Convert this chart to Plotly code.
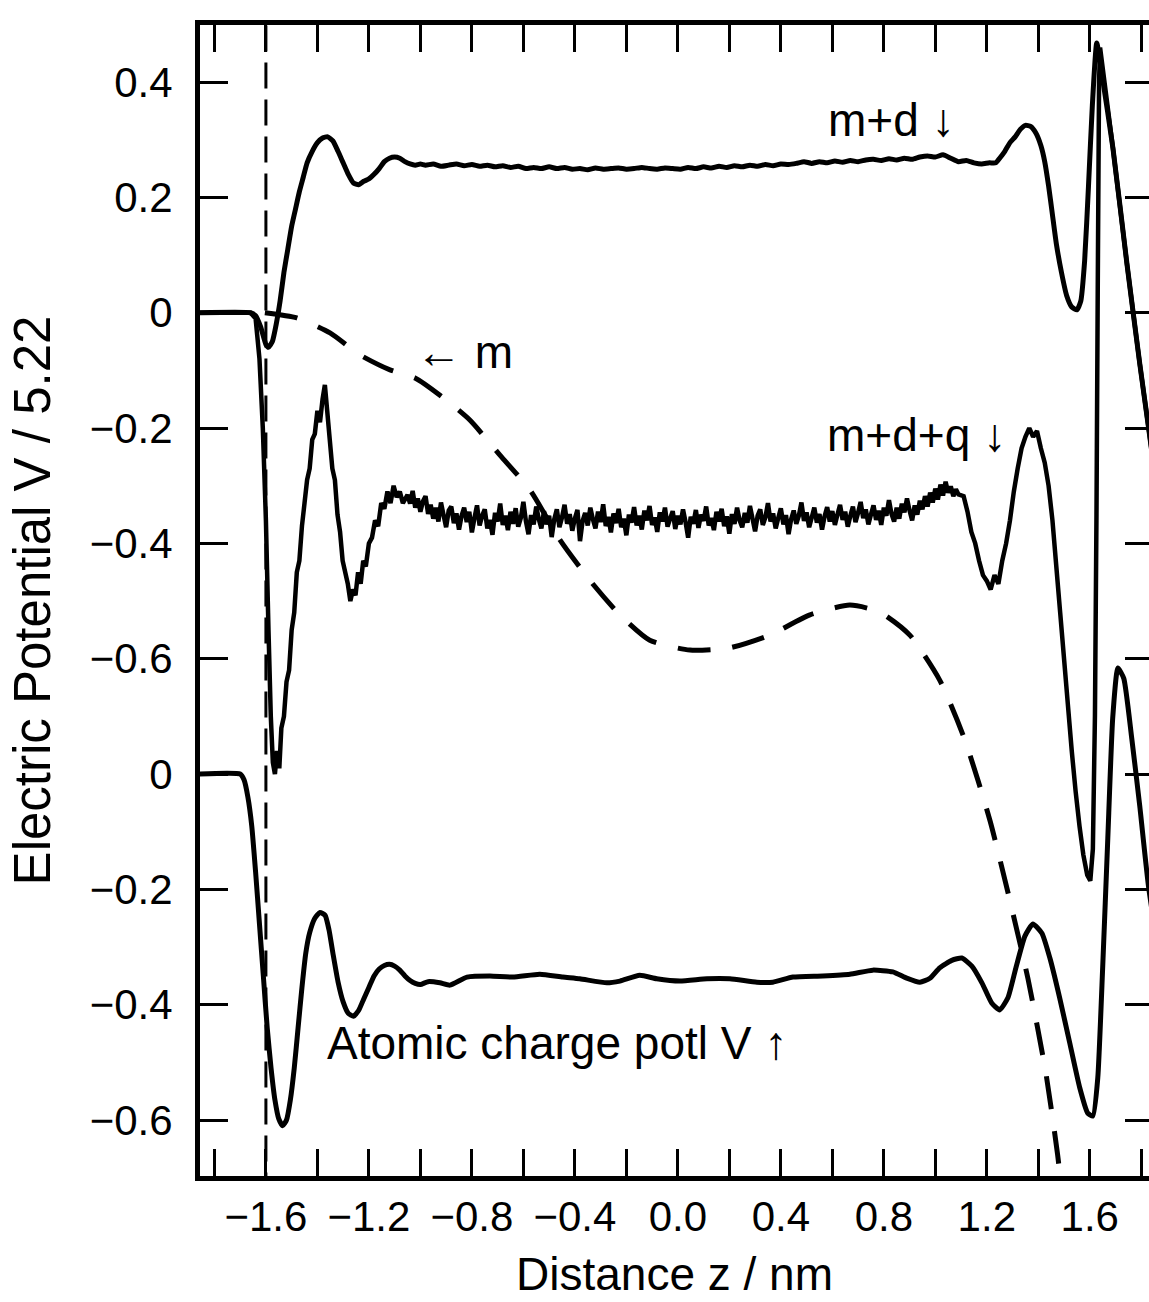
import plotly.graph_objects as go

# ---------------- axis ticks ----------------
x_tick_vals = [-1.8, -1.6, -1.4, -1.2, -1.0, -0.8, -0.6, -0.4, -0.2, 0.0,
               0.2, 0.4, 0.6, 0.8, 1.0, 1.2, 1.4, 1.6, 1.8]
x_tick_text = ["", "−1.6", "", "−1.2", "", "−0.8", "", "−0.4", "", "0.0",
               "", "0.4", "", "0.8", "", "1.2", "", "1.6", ""]
y_tick_vals = [0.4, 0.2, 0.0, -0.2, -0.4, -0.6, -0.8, -1.0, -1.2, -1.4]
y_tick_text = ["0.4", "0.2", "0", "−0.2", "−0.4", "−0.6", "0", "−0.2", "−0.4", "−0.6"]

# ---------------- m+d (solid, upper scale) ----------------
md_z = [-1.86, -1.66, -1.64, -1.62, -1.60, -1.59, -1.575, -1.56, -1.545, -1.53, -1.515, -1.50,
        -1.485, -1.47, -1.455, -1.44, -1.42, -1.40, -1.38, -1.36, -1.34, -1.32, -1.30, -1.28,
        -1.26, -1.24, -1.22, -1.20, -1.18, -1.16, -1.14, -1.12, -1.10, -1.08, -1.06, -1.04,
        -1.02, -1.00, -0.98, -0.95, -0.92, -0.89, -0.86, -0.83, -0.80, -0.77, -0.74, -0.71,
        -0.68, -0.65, -0.62, -0.59, -0.56, -0.53, -0.50, -0.47, -0.44, -0.41, -0.38, -0.35,
        -0.32, -0.29, -0.26, -0.23, -0.20, -0.17, -0.14, -0.11, -0.08, -0.05, -0.02, 0.01,
        0.04, 0.07, 0.10, 0.13, 0.16, 0.19, 0.22, 0.25, 0.28, 0.31, 0.34, 0.37, 0.40, 0.43,
        0.46, 0.49, 0.52, 0.55, 0.58, 0.61, 0.64, 0.67, 0.70, 0.73, 0.76, 0.79, 0.82, 0.85,
        0.88, 0.91, 0.94, 0.97, 1.00, 1.03, 1.06, 1.09, 1.12, 1.15, 1.18, 1.21, 1.235, 1.25,
        1.27, 1.29, 1.31, 1.33, 1.35, 1.37, 1.39, 1.41, 1.425, 1.44, 1.455, 1.47, 1.49, 1.51,
        1.53, 1.55, 1.565, 1.58, 1.595, 1.61, 1.627, 1.645, 1.69, 1.744, 1.794, 1.83, 1.90]
md_v = [0.0, 0.0, -0.005, -0.025, -0.055, -0.06, -0.05, -0.02, 0.02, 0.07, 0.11, 0.15,
        0.18, 0.21, 0.235, 0.26, 0.28, 0.295, 0.303, 0.305, 0.298, 0.28, 0.26, 0.24,
        0.225, 0.222, 0.228, 0.232, 0.24, 0.25, 0.262, 0.268, 0.27, 0.268, 0.262, 0.258,
        0.256, 0.258, 0.256, 0.258, 0.254, 0.256, 0.258, 0.255, 0.257, 0.254, 0.256, 0.253,
        0.255, 0.252, 0.254, 0.25, 0.252, 0.25, 0.253, 0.25, 0.252, 0.249, 0.25, 0.248,
        0.251, 0.249, 0.25, 0.251, 0.249, 0.25, 0.252, 0.25, 0.249, 0.251, 0.25, 0.249,
        0.252, 0.25, 0.253, 0.251, 0.254, 0.252, 0.255, 0.253, 0.256, 0.254, 0.257, 0.255, 0.258, 0.257,
        0.259, 0.262, 0.259, 0.262, 0.26, 0.263, 0.261, 0.264, 0.262, 0.265, 0.266, 0.264, 0.267, 0.265,
        0.268, 0.266, 0.27, 0.272, 0.27, 0.274, 0.268, 0.262, 0.264, 0.26, 0.258, 0.26, 0.26, 0.268,
        0.28, 0.295, 0.305, 0.318, 0.325, 0.323, 0.312, 0.29, 0.262, 0.22, 0.17, 0.12, 0.07, 0.03,
        0.01, 0.005, 0.02, 0.09, 0.22, 0.36, 0.468, 0.42, 0.285, 0.086, -0.088, -0.205, -0.435]

# ---------------- m+d+q (noisy solid, upper scale) ----------------
mdq_left_z = [-1.86, -1.66, -1.64, -1.625, -1.612, -1.600, -1.590, -1.581, -1.573, -1.565,
              -1.557, -1.548, -1.540, -1.530, -1.520, -1.510, -1.500, -1.490, -1.480, -1.470,
              -1.460, -1.450, -1.440, -1.430, -1.420, -1.410, -1.400, -1.390, -1.380, -1.371,
              -1.362, -1.352, -1.342, -1.332, -1.322, -1.312, -1.302, -1.292, -1.282, -1.272,
              -1.262, -1.252, -1.242, -1.232, -1.222, -1.212, -1.200, -1.188, -1.176, -1.164,
              -1.152, -1.140, -1.128, -1.116, -1.104, -1.092, -1.080, -1.068]
mdq_left_v = [0.0, 0.0, -0.01, -0.08, -0.20, -0.36, -0.55, -0.70, -0.78, -0.80,
              -0.76, -0.79, -0.72, -0.70, -0.64, -0.62, -0.55, -0.52, -0.45, -0.43,
              -0.37, -0.33, -0.29, -0.27, -0.22, -0.21, -0.17, -0.19, -0.15, -0.125,
              -0.17, -0.22, -0.27, -0.29, -0.35, -0.38, -0.43, -0.45, -0.47, -0.50,
              -0.48, -0.49, -0.45, -0.47, -0.43, -0.44, -0.40, -0.39, -0.36, -0.37,
              -0.33, -0.34, -0.31, -0.33, -0.30, -0.32, -0.31, -0.33]
# noisy plateau, sampled every 0.01 nm from -1.05 to 1.09
mdq_mid_z = [round(-1.05 + 0.01 * i, 3) for i in range(215)]
mdq_mid_v = [-0.316, -0.331, -0.309, -0.338, -0.322, -0.345, -0.327, -0.318, -0.349, -0.333,
             -0.357, -0.338, -0.362, -0.329, -0.351, -0.372, -0.343, -0.336, -0.365, -0.348,
             -0.376, -0.352, -0.338, -0.363, -0.345, -0.381, -0.356, -0.334, -0.369, -0.352,
             -0.341, -0.374, -0.359, -0.385, -0.347, -0.362, -0.331, -0.368, -0.352, -0.377,
             -0.345, -0.366, -0.339, -0.371, -0.356, -0.328, -0.362, -0.384, -0.351, -0.367,
             -0.336, -0.358, -0.374, -0.344, -0.367, -0.352, -0.389, -0.358, -0.341, -0.372,
             -0.355, -0.333, -0.366, -0.349, -0.378, -0.357, -0.342, -0.396, -0.361, -0.347,
             -0.369, -0.338, -0.358, -0.374, -0.345, -0.363, -0.332, -0.370, -0.354, -0.381,
             -0.348, -0.365, -0.340, -0.372, -0.357, -0.386, -0.350, -0.364, -0.337, -0.369,
             -0.352, -0.376, -0.343, -0.360, -0.335, -0.368, -0.355, -0.380, -0.346, -0.362,
             -0.338, -0.371, -0.357, -0.344, -0.375, -0.352, -0.367, -0.341, -0.363, -0.390,
             -0.354, -0.366, -0.342, -0.373, -0.350, -0.361, -0.336, -0.369, -0.356, -0.377,
             -0.345, -0.362, -0.340, -0.370, -0.353, -0.383, -0.349, -0.366, -0.338, -0.360,
             -0.372, -0.347, -0.364, -0.335, -0.357, -0.379, -0.352, -0.341, -0.368, -0.355,
             -0.330, -0.362, -0.348, -0.374, -0.356, -0.339, -0.367, -0.351, -0.384, -0.358,
             -0.343, -0.366, -0.352, -0.329, -0.361, -0.346, -0.372, -0.355, -0.338, -0.364,
             -0.349, -0.376, -0.353, -0.337, -0.362, -0.344, -0.368, -0.350, -0.333, -0.359,
             -0.345, -0.371, -0.352, -0.336, -0.363, -0.347, -0.328, -0.356, -0.341, -0.367,
             -0.350, -0.334, -0.359, -0.343, -0.368, -0.338, -0.352, -0.325, -0.349, -0.362,
             -0.338, -0.357, -0.331, -0.346, -0.322, -0.343, -0.360, -0.334, -0.350, -0.326,
             -0.341, -0.318, -0.336, -0.312, -0.329, -0.305, -0.324, -0.298, -0.317, -0.293,
             -0.312, -0.301, -0.318, -0.306, -0.315]
mdq_right_z = [1.11, 1.125, 1.14, 1.155, 1.17, 1.185, 1.20, 1.215, 1.23, 1.245, 1.26, 1.275,
               1.29, 1.305, 1.32, 1.335, 1.35, 1.365, 1.38, 1.395, 1.41, 1.425, 1.44, 1.455,
               1.47, 1.485, 1.50, 1.515, 1.53, 1.545, 1.56, 1.575, 1.59, 1.602, 1.612, 1.62,
               1.626, 1.631, 1.636, 1.64, 1.69, 1.744, 1.794, 1.83, 1.90]
mdq_right_v = [-0.318, -0.345, -0.38, -0.40, -0.43, -0.455, -0.465, -0.48, -0.455, -0.47, -0.43, -0.40,
               -0.36, -0.31, -0.27, -0.235, -0.215, -0.20, -0.215, -0.205, -0.235, -0.26, -0.30, -0.36,
               -0.44, -0.52, -0.60, -0.68, -0.76, -0.83, -0.89, -0.94, -0.975, -0.985, -0.93, -0.70,
               -0.35, 0.05, 0.40, 0.46, 0.285, 0.086, -0.088, -0.205, -0.435]

# ---------------- m (dashed, upper scale) ----------------
m_z = [-1.604, -1.48, -1.351, -1.235, -1.118, -1.021, -0.924, -0.808, -0.691, -0.575,
       -0.458, -0.342, -0.225, -0.109, 0.047, 0.202, 0.357, 0.513, 0.668, 0.784,
       0.901, 1.017, 1.115, 1.212, 1.289, 1.36, 1.43, 1.475, 1.50]
m_v = [0.0, -0.009, -0.035, -0.073, -0.099, -0.113, -0.143, -0.186, -0.247, -0.307,
       -0.394, -0.464, -0.524, -0.568, -0.585, -0.581, -0.559, -0.524, -0.507, -0.519,
       -0.559, -0.637, -0.741, -0.880, -1.018, -1.155, -1.32, -1.46, -1.56]

# boundary marker (dashed vertical)
boundary_z = -1.60

# ---------------- atomic charge potential (lower scale, own zero) ----------------
atom_z = [-1.86, -1.70, -1.685, -1.67, -1.655, -1.64, -1.625, -1.61, -1.595, -1.58, -1.565, -1.55,
          -1.535, -1.52, -1.505, -1.49, -1.475, -1.46, -1.445, -1.43, -1.41, -1.39, -1.37, -1.355,
          -1.34, -1.32, -1.30, -1.28, -1.26, -1.24, -1.22, -1.20, -1.18, -1.16, -1.14, -1.12,
          -1.10, -1.08, -1.06, -1.04, -1.02, -1.00, -0.97, -0.924, -0.885, -0.819, -0.730, -0.641,
          -0.536, -0.447, -0.381, -0.276, -0.225, -0.148, -0.082, 0.008, 0.113, 0.202, 0.307, 0.369,
          0.447, 0.563, 0.668, 0.757, 0.835, 0.889, 0.940, 0.979, 1.017, 1.064, 1.103, 1.142,
          1.181, 1.219, 1.250, 1.282, 1.313, 1.348, 1.379, 1.414, 1.445, 1.483, 1.522, 1.561,
          1.592, 1.612, 1.631, 1.650, 1.670, 1.689, 1.709, 1.732, 1.763, 1.794, 1.829, 1.90]
atom_v = [0.0, 0.0, -0.01, -0.04, -0.09, -0.17, -0.26, -0.35, -0.44, -0.51, -0.565, -0.598,
          -0.61, -0.60, -0.565, -0.51, -0.44, -0.37, -0.31, -0.275, -0.25, -0.24, -0.245, -0.27,
          -0.31, -0.36, -0.395, -0.415, -0.42, -0.41, -0.39, -0.37, -0.35, -0.338, -0.332, -0.33,
          -0.333, -0.34, -0.35, -0.358, -0.363, -0.365, -0.36, -0.362, -0.366, -0.352, -0.350, -0.352,
          -0.347, -0.352, -0.355, -0.362, -0.359, -0.349, -0.355, -0.359, -0.355, -0.355, -0.361, -0.361,
          -0.352, -0.350, -0.347, -0.340, -0.343, -0.354, -0.361, -0.354, -0.336, -0.323, -0.319, -0.333,
          -0.362, -0.397, -0.409, -0.388, -0.336, -0.281, -0.260, -0.276, -0.319, -0.388, -0.466, -0.544,
          -0.588, -0.593, -0.527, -0.336, -0.111, 0.097, 0.184, 0.166, 0.062, -0.055, -0.198, -0.40]
ATOM_OFFSET = -0.8  # lower panel zero sits at -0.8 of the upper scale

# ---------------- annotations ----------------
labels = [
    ("m+d ↓", 0.831, 0.334),
    ("← m", -0.827, -0.068),
    ("m+d+q ↓", 0.928, -0.212),
    ("Atomic charge potl V ↑", -0.470, -1.266),
]

FONT = "Liberation Sans, Arial, Helvetica, sans-serif"

fig = go.Figure()
fig.add_trace(go.Scatter(x=[boundary_z, boundary_z], y=[-1.6, 0.6], mode="lines",
                         line=dict(color="black", width=3, dash="26px,11px"), hoverinfo="skip"))
fig.add_trace(go.Scatter(x=m_z, y=m_v, mode="lines",
                         line=dict(color="black", width=5, dash="33px,22px", shape="spline", smoothing=0.6)))
fig.add_trace(go.Scatter(x=md_z, y=md_v, mode="lines",
                         line=dict(color="black", width=5, shape="spline", smoothing=0.5)))
fig.add_trace(go.Scatter(x=mdq_left_z + mdq_mid_z + mdq_right_z,
                         y=mdq_left_v + mdq_mid_v + mdq_right_v, mode="lines",
                         line=dict(color="black", width=4.5, simplify=False)))
fig.add_trace(go.Scatter(x=atom_z, y=[v + ATOM_OFFSET for v in atom_v], mode="lines",
                         line=dict(color="black", width=5, shape="spline", smoothing=0.5)))
fig.add_trace(go.Scatter(x=[None], y=[None], yaxis="y2", mode="lines", hoverinfo="skip"))

for text, zx, vy in labels:
    fig.add_annotation(x=zx, y=vy, text=text, showarrow=False, xanchor="center", yanchor="middle",
                       font=dict(family=FONT, size=46, color="black"))

fig.update_layout(
    width=1149, height=1302,
    margin=dict(l=200, r=0, t=25, b=126),
    paper_bgcolor="white", plot_bgcolor="white",
    showlegend=False,
    font=dict(family=FONT, color="black"),
    xaxis=dict(range=[-1.856, 1.83], tickmode="array", tickvals=x_tick_vals, ticktext=x_tick_text,
               ticks="inside", ticklen=27, tickwidth=2.5, tickcolor="black",
               showline=True, linewidth=5, linecolor="black", mirror="ticks",
               showgrid=False, zeroline=False, tickfont=dict(size=42, family=FONT, color="black"),
               title=dict(text="Distance z / nm", font=dict(size=46, family=FONT, color="black"),
                          standoff=20),
               automargin=False),
    yaxis=dict(range=[-1.497, 0.499], tickmode="array", tickvals=y_tick_vals, ticktext=y_tick_text,
               ticks="inside", ticklen=28, tickwidth=2.5, tickcolor="black",
               showline=True, linewidth=5, linecolor="black", mirror=False,
               showgrid=False, zeroline=False, tickfont=dict(size=42, family=FONT, color="black"),
               ticklabelstandoff=14,
               title=dict(text="Electric Potential V / 5.22", font=dict(size=51, family=FONT, color="black"),
                          standoff=24),
               automargin=False),
    yaxis2=dict(range=[-1.497, 0.499], overlaying="y", side="right", tickmode="array",
                tickvals=y_tick_vals, ticks="inside", ticklen=24, tickwidth=2.5, tickcolor="black",
                showticklabels=False, showline=False, showgrid=False, zeroline=False),
)

fig.write_html("out.html")
